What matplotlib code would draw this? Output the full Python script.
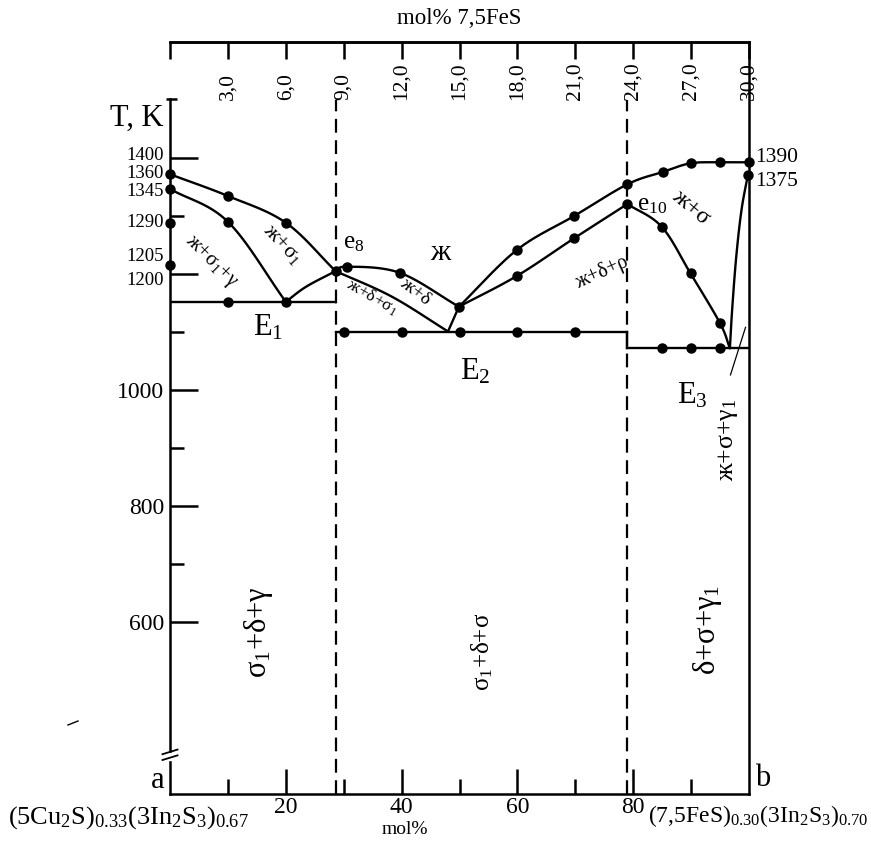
import numpy as np
import matplotlib
matplotlib.use('Agg')
import matplotlib.pyplot as plt
from matplotlib.lines import Line2D

plt.rcParams['font.family'] = ['Liberation Serif', 'DejaVu Serif']
plt.rcParams['mathtext.fontset'] = 'custom'
plt.rcParams['mathtext.rm'] = 'Liberation Serif'
plt.rcParams['mathtext.it'] = 'Liberation Serif:italic'
plt.rcParams['mathtext.bf'] = 'Liberation Serif:bold'
plt.rcParams['mathtext.default'] = 'regular'

# ---------------- data ----------------
x_major = [20, 40, 60, 80]
x_major_labels = ['20', '40', '60', '80']
x_minor = [10, 30, 50, 70, 90]
top_ticks = [0, 3, 6, 9, 12, 15, 18, 21, 24, 27, 30]
top_labels = ['', '3,0', '6,0', '9,0', '12,0', '15,0', '18,0', '21,0', '24,0', '27,0', '30,0']
y_major = [1400, 1200, 1000, 800, 600]
y_major_labels = ['', '', '1000', '800', '600']
y_minor = [1300, 1100, 900, 700]

# left-side temperature labels (text, value position)
left_lbl_text = ['1400', '1360', '1345', '1290', '1205', '1200']
left_lbl_T = [1405, 1374, 1343, 1288, 1230, 1188]
right_lbl_text = ['1390', '1375']
right_lbl_T = [1401, 1360]

# liquidus / solidus curves (x: mol%, T: K)
c1_x = [0, 10, 20, 28.6];            c1_T = [1372, 1334.5, 1288.4, 1205]
c2_x = [0, 10, 20];                  c2_T = [1346.6, 1290, 1152]
c3_x = [20, 23.5, 28.6];             c3_T = [1152, 1178, 1205]
c4_x = [28.6, 30.6, 39.7, 49.9];     c4_T = [1205, 1212.6, 1202, 1143.6]
c5_x = [28.6, 38.3, 48];             c5_T = [1205, 1161, 1101]
c6_x = [48, 49.9];                   c6_T = [1100.5, 1143.6]
c7_x = [49.9, 59.9, 69.8, 79, 85.1, 89.9, 95, 100]
c7_T = [1143.6, 1241.4, 1300, 1354.7, 1375.9, 1390.9, 1392.6, 1392.6]
c8_x = [49.9, 59.9, 69.8, 79];       c8_T = [1143.6, 1196.6, 1261.6, 1320.7]
c9_x = [79, 84.9, 89.9, 95, 96.7];   c9_T = [1320.7, 1281.6, 1201, 1115, 1072]
c10_x = [96.7, 97.1, 97.8, 98.7, 99.8]
c10_T = [1072, 1140, 1230, 1310, 1370.7]

# eutectic horizontals
E1_T, E1_x0, E1_x1 = 1152, 0, 28.5
E2_T, E2_x0, E2_x1 = 1100.5, 28.7, 78.9
E3_T, E3_x0, E3_x1 = 1072, 78.9, 100

# experimental points
pts_x = [0, 10, 20, 28.6, 0, 10, 0, 0, 10, 20,
         30.6, 39.7, 49.9,
         30, 40, 50, 60, 70,
         59.9, 69.8, 79, 85.1, 89.9, 95, 100,
         59.9, 69.8, 79, 84.9, 89.9, 95,
         85, 90, 95, 99.8]
pts_T = [1372, 1334.5, 1288.4, 1205, 1346.6, 1290, 1288, 1215.5, 1152, 1152,
         1212.6, 1202, 1143.6,
         1100.5, 1100.5, 1100.5, 1100.5, 1100.5,
         1241.4, 1300, 1354.7, 1375.9, 1390.9, 1392.6, 1392.6,
         1196.6, 1261.6, 1320.7, 1281.6, 1201, 1115,
         1072, 1072, 1072, 1370.7]

dashed_x = [28.6, 78.9]

XMIN, XMAX = 0, 100
TMIN, TMAX = 303.4, 1600
LEFT_TOP = 1502

# ---------------- figure ----------------
W, H = 871, 841
fig = plt.figure(figsize=(W / 100, H / 100), dpi=100)
ax = fig.add_axes([170 / W, 47 / H, 579 / W, 752 / H])
ax.set_xlim(XMIN, XMAX)
ax.set_ylim(TMIN, TMAX)

lw_ax = 1.8
for s in ['bottom', 'right', 'left', 'top']:
    ax.spines[s].set_linewidth(lw_ax)
ax.spines['left'].set_bounds(TMIN, LEFT_TOP)

ax.set_xticks(x_major, x_major_labels)
ax.set_xticks(x_minor, minor=True)
ax.tick_params(axis='x', which='major', direction='in', length=18, width=1.8,
               labelsize=17, pad=2)
ax.tick_params(axis='x', which='minor', direction='in', length=11, width=1.8)
ax.set_yticks(y_major, y_major_labels)
ax.set_yticks(y_minor, minor=True)
ax.tick_params(axis='y', which='major', direction='in', length=20, width=1.8,
               labelsize=17, pad=4)
ax.tick_params(axis='y', which='minor', direction='in', length=10, width=1.8)
ax.tick_params(axis='y', which='both', right=False)

# top axis (7,5FeS mol%)
sec = ax.secondary_xaxis('top', functions=(lambda v: v * 0.3, lambda v: v / 0.3))
sec.set_xticks(top_ticks, [''] * len(top_ticks))
sec.tick_params(direction='in', length=12, width=1.8)
sec.spines['top'].set_linewidth(lw_ax)
for v, lab in zip(top_ticks, top_labels):
    ax.text(v / 0.3, 1500, lab, rotation=90, ha='center', va='bottom', fontsize=15.5)
ax.text(50, 1640, 'mol% 7,5FeS', ha='center', va='center', fontsize=16.5, clip_on=False)

# cap on left axis top
ax.plot([-0.7, 1.2], [LEFT_TOP, LEFT_TOP], color='black', lw=1.8, clip_on=False,
        solid_capstyle='butt')


def smooth(xs, ys, n=24):
    sx, sy = 5.79, 0.58
    P = np.column_stack([np.asarray(xs) * sx, np.asarray(ys) * sy])
    if len(P) < 3:
        return xs, ys
    P = np.vstack([2 * P[0] - P[1], P, 2 * P[-1] - P[-2]])
    out = []
    for i in range(1, len(P) - 2):
        p0, p1, p2, p3 = P[i - 1], P[i], P[i + 1], P[i + 2]
        t = np.linspace(0, 1, n, endpoint=False)[:, None]
        seg = 0.5 * ((2 * p1) + (-p0 + p2) * t + (2 * p0 - 5 * p1 + 4 * p2 - p3) * t ** 2
                     + (-p0 + 3 * p1 - 3 * p2 + p3) * t ** 3)
        out.append(seg)
    out.append(P[-2][None, :])
    out = np.vstack(out)
    return out[:, 0] / sx, out[:, 1] / sy


lw_c = 1.7
for cx, cT in [(c1_x, c1_T), (c2_x, c2_T), (c3_x, c3_T), (c4_x, c4_T), (c5_x, c5_T),
               (c6_x, c6_T), (c7_x, c7_T), (c8_x, c8_T), (c9_x, c9_T), (c10_x, c10_T)]:
    sx_, sy_ = smooth(cx, cT)
    ax.plot(sx_, sy_, color='black', lw=lw_c, solid_capstyle='round')

ax.plot([E1_x0, E1_x1], [E1_T, E1_T], color='black', lw=lw_c)
ax.plot([E2_x0, E2_x1], [E2_T, E2_T], color='black', lw=lw_c)
ax.plot([E3_x0, E3_x1], [E3_T, E3_T], color='black', lw=lw_c)
ax.plot([E2_x1, E3_x0], [E2_T, E3_T], color='black', lw=lw_c)

for dx in dashed_x:
    ax.plot([dx, dx], [TMIN, 1500], color='black', lw=1.6, linestyle=(0, (6.2, 3.4)))

ax.plot(pts_x, pts_T, 'o', color='black', markersize=6.5, clip_on=False, zorder=5)

# leader line
ax.plot([99.4, 96.8], [1108, 1026], color='black', lw=0.9)

# temperature labels
for t, T in zip(left_lbl_text, left_lbl_T):
    ax.text(-1.0, T, t, ha='right', va='center', fontsize=13.5, clip_on=False,
            linespacing=1.0)
for t, T in zip(right_lbl_text, right_lbl_T):
    ax.text(101.0, T, t, ha='left', va='center', fontsize=15.5, clip_on=False)

ax.text(-5.7, 1469, 'T, K', ha='center', va='center', fontsize=22, clip_on=False)

# region labels
ax.text(16.9, 1108, 'E$_1$', ha='center', va='center', fontsize=22)
ax.text(52.7, 1031, 'E$_2$', ha='center', va='center', fontsize=22)
ax.text(90.2, 990, 'E$_3$', ha='center', va='center', fontsize=22)
ax.text(31.8, 1253, 'e$_8$', ha='center', va='center', fontsize=18)
ax.text(83.2, 1319, 'e$_{10}$', ha='center', va='center', fontsize=18)
ax.text(46.6, 1236, 'ж', ha='center', va='center', fontsize=21)
ax.text(19.5, 1250, 'ж+σ$_1$', ha='center', va='center', fontsize=15.5, rotation=-47)
ax.text(7.1, 1221, 'ж+σ$_1$+γ', ha='center', va='center', fontsize=14.5, rotation=-45)
ax.text(42.3, 1169, 'ж+δ', ha='center', va='center', fontsize=14, rotation=-37)
ax.text(34.9, 1160, 'ж+δ+σ$_1$', ha='center', va='center', fontsize=12.5, rotation=-30)
ax.text(74.6, 1202, 'ж+δ+ρ', ha='center', va='center', fontsize=14.5, rotation=24)
ax.text(90.0, 1315, 'ж+σ', ha='center', va='center', fontsize=17, rotation=-40)
ax.text(96.4, 914, 'ж+σ+γ$_1$', ha='center', va='center', fontsize=18.5, rotation=90)
ax.text(15.2, 583, 'σ$_1$+δ+γ', ha='center', va='center', fontsize=22, rotation=90)
ax.text(53.9, 548, 'σ$_1$+δ+σ', ha='center', va='center', fontsize=18, rotation=90)
ax.text(92.9, 586, 'δ+σ+γ$_1$', ha='center', va='center', fontsize=22, rotation=90)

# corner letters and compositions (figure pixel coords)
def ftext(px, py, s, **kw):
    fig.text(px / W, 1 - py / H, s, **kw)

ftext(158, 780, 'a', ha='center', va='center', fontsize=22)
ftext(763, 778, 'b', ha='center', va='center', fontsize=22)
ftext(8, 818, r'(5Cu$_2$S)$_{0.33}$(3In$_2$S$_3$)$_{0.67}$', ha='left', va='center', fontsize=19)
ftext(648, 816, r'(7,5FeS)$_{0.30}$(3In$_2$S$_3$)$_{0.70}$', ha='left', va='center', fontsize=17)
ftext(405, 830, 'mol%', ha='center', va='center', fontsize=14)

# axis break mark on left axis
ax.plot([-0.3, 0.3], [367, 367], color='white', lw=6, clip_on=False, zorder=6,
        solid_capstyle='butt')
ax.plot([-1.3, 1.3], [362, 370], color='black', lw=1.3, clip_on=False, zorder=7)
ax.plot([-1.3, 1.3], [372, 380], color='black', lw=1.3, clip_on=False, zorder=7)

# small stray mark left of the axis
fig.add_artist(Line2D([68 / W, 78 / W], [1 - 725 / H, 1 - 721 / H], color='black', lw=1.0))

fig.savefig('out.png', dpi=100)
